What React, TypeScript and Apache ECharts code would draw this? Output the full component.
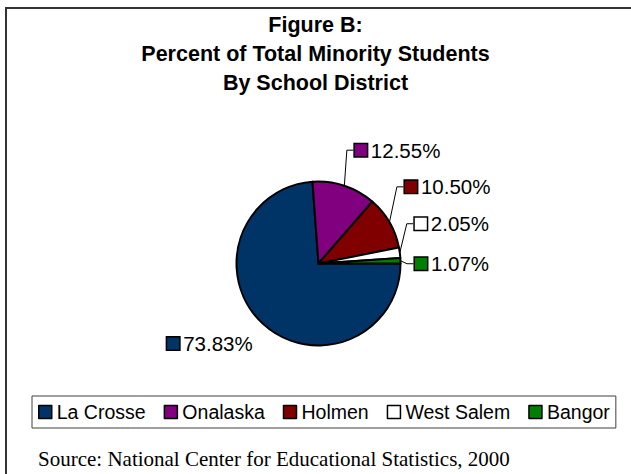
import React, { useEffect, useRef } from "react";
import * as echarts from "echarts";

// ---- data ----
const categories = ["La Crosse", "Onalaska", "Holmen", "West Salem", "Bangor"];
const percentValues = [73.83, 12.55, 10.5, 2.05, 1.07];
const titleLines = ["Figure B:", "Percent of Total Minority Students", "By School District"];
const sourceNote = "Source: National Center for Educational Statistics, 2000";

// ---- styles ----
const COLORS = ["#003366", "#800080", "#800000", "#FFFFFF", "#008000"];
// label placement relative to each slice's outer mid-point (dx, dy, align)
const LABEL_PLACE: Array<[number, number, "left" | "right"]> = [
  [-10, 20, "right"],
  [10.5, -35.5, "left"],
  [15.5, -35.5, "left"],
  [15, -29, "left"],
  [14.5, 3, "left"],
];
const SANS = "'Liberation Sans', Arial, sans-serif";
const SERIF = "'Liberation Serif', 'Times New Roman', serif";

export default function App() {
  const ref = useRef<HTMLDivElement>(null);

  useEffect(() => {
    if (!ref.current) return;
    const chart = echarts.init(ref.current, undefined, { renderer: "svg" });

    const rich: Record<string, any> = {
      t: { fontSize: 20.5, fontFamily: SANS, color: "#000", padding: [0, 0, 0, 4] },
    };
    COLORS.forEach((c, i) => {
      rich["k" + i] = {
        width: 12,
        height: 12,
        backgroundColor: c,
        borderColor: "#000",
        borderWidth: 1.5,
      };
    });

    const seriesData = categories.map((name, i) => ({
      name,
      value: percentValues[i],
      itemStyle: { color: COLORS[i] },
      labelLine: { show: i !== 0 },
    }));

    chart.setOption({
      animation: false,
      backgroundColor: "#fff",
      title: {
        text: titleLines.join("\n"),
        left: "center",
        top: 10,
        padding: 0,
        textStyle: {
          fontSize: 21.5,
          fontWeight: "bold",
          fontFamily: SANS,
          color: "#000",
          lineHeight: 29,
        },
      },
      legend: {
        left: 32,
        top: 396,
        orient: "horizontal",
        icon: "rect",
        itemWidth: 13,
        itemHeight: 13,
        itemGap: 18,
        padding: [6, 6],
        borderColor: "#404040",
        borderWidth: 1,
        itemStyle: { borderColor: "#000", borderWidth: 1.5 },
        textStyle: { fontSize: 19.5, fontFamily: SANS, color: "#000", lineHeight: 20 },
        data: categories,
      },
      graphic: [
        {
          type: "line",
          shape: { x1: 6, y1: 8, x2: 631, y2: 8 },
          style: { stroke: "#333", lineWidth: 2 },
        },
        {
          type: "line",
          shape: { x1: 6, y1: 7, x2: 6, y2: 474 },
          style: { stroke: "#333", lineWidth: 2 },
        },
        {
          type: "text",
          left: 38,
          top: 448,
          style: { text: sourceNote, font: `21px ${SERIF}`, fill: "#000" },
        },
      ],
      series: [
        {
          type: "pie",
          center: [318.5, 263.5],
          radius: 82,
          startAngle: 0,
          clockwise: true,
          avoidLabelOverlap: false,
          data: seriesData,
          itemStyle: { borderColor: "#000", borderWidth: 2 },
          label: {
            show: true,
            position: "outside",
            formatter: (p: any) => `{k${p.dataIndex}|}{t|${Number(p.value).toFixed(2)}%}`,
            rich,
          },
          labelLine: {
            show: true,
            length: 10,
            length2: 8,
            lineStyle: { color: "#000", width: 1 },
          },
          labelLayout: (params: any) => {
            const i = params.dataIndex;
            const data = (chart as any).getModel().getSeriesByIndex(0).getData();
            const lay = data.getItemLayout(i);
            const mid = (lay.startAngle + lay.endAngle) / 2;
            const px = lay.cx + lay.r * Math.cos(mid);
            const py = lay.cy + lay.r * Math.sin(mid);
            const [dx, dy, align] = LABEL_PLACE[i];
            const x = px + dx;
            const y = py + dy;
            const out: any = { x, y, align, verticalAlign: "middle" };
            if (i !== 0) {
              out.labelLinePoints = [
                [px, py],
                [x - 8, y],
                [x - 1.5, y],
              ];
            }
            return out;
          },
          emphasis: { disabled: true },
        },
      ],
    });

    return () => chart.dispose();
  }, []);

  return (
    <div
      ref={ref}
      style={{ position: "fixed", left: 0, top: 0, width: 631, height: 474, background: "#fff" }}
    />
  );
}
